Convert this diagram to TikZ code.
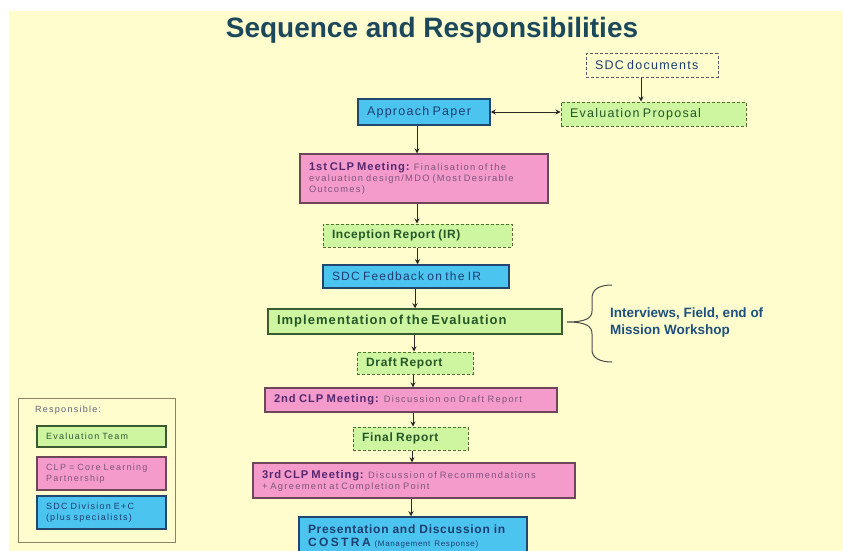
\documentclass[tikz,border=0pt]{standalone}
\usepackage{fontspec}
\setmainfont{Liberation Sans}
\usetikzlibrary{arrows.meta}
\definecolor{bg}{RGB}{255,253,206}
\definecolor{bluef}{RGB}{76,196,240}
\definecolor{pinkf}{RGB}{245,155,203}
\definecolor{greenf}{RGB}{206,246,160}
\definecolor{titlec}{RGB}{28,72,92}
\definecolor{bluet}{RGB}{28,62,112}
\definecolor{greent}{RGB}{36,86,40}
\definecolor{purplet}{RGB}{84,40,112}
\definecolor{purples}{RGB}{125,85,125}
\definecolor{bluebord}{RGB}{35,70,110}
\definecolor{pinkbord}{RGB}{110,70,90}
\definecolor{greenbord}{RGB}{60,90,50}
\definecolor{dashg}{RGB}{80,110,50}
\definecolor{sdcdash}{RGB}{90,90,100}
\definecolor{legb}{RGB}{140,130,100}
\definecolor{linec}{RGB}{40,40,40}
\definecolor{iwc}{RGB}{30,80,125}
\definecolor{legt}{RGB}{90,100,120}
\newcommand\rt[3]{{\fontsize{#1}{#1}\selectfont\addfontfeature{LetterSpace=#2}#3}}
\newcommand\bt[3]{{\fontsize{#1}{#1}\selectfont\bfseries\addfontfeature{LetterSpace=#2}#3}}
\begin{document}
\begin{tikzpicture}[x=1pt,y=-1pt,
  boxbase/.style={rectangle, inner xsep=9pt, inner ysep=0pt, align=left},
  wh/.style 2 args={text width=#1pt, minimum height=#2pt},
  solidblue/.style={boxbase, fill=bluef, draw=bluebord, line width=1.5pt},
  solidpink/.style={boxbase, fill=pinkf, draw=pinkbord, line width=1.3pt},
  solidgreen/.style={boxbase, fill=greenf, draw=greenbord, line width=1.5pt},
  dashgreen/.style={boxbase, fill=greenf, draw=dashg, line width=1pt, dash pattern=on 3pt off 2pt},
  dashplain/.style={boxbase, fill=bg, draw=sdcdash, line width=1pt, dash pattern=on 3pt off 2pt},
  legbox/.style={boxbase, line width=1.1pt, font=\fontsize{9}{11}\selectfont},
  conn/.style={draw=linec, line width=0.9pt},
  onearrow/.style={conn, -{Stealth[length=5pt,width=5pt]}},
  twoarrow/.style={conn, {Stealth[length=5pt,width=5pt]}-{Stealth[length=5pt,width=5pt]}},
  brc/.style={draw=black!70, line width=1pt}
]
\useasboundingbox (0,0) rectangle (843,551);
\fill[white] (0,0) rectangle (843,551);
\fill[bg] (9,11) rectangle (843,551);

\node[anchor=base, text=titlec, inner sep=0, font=\fontsize{28}{28}\selectfont\bfseries] (title) at (432,38) {Sequence and Responsibilities};

\node[dashplain, wh={114}{23}, text=bluet] (sdc) at (652,65.5) {\rt{12.5}{10}{SDC documents}};
\node[dashgreen, wh={167}{24}, text=greent] (ep) at (653.5,114) {\rt{12.5}{10}{Evaluation Proposal}};
\node[solidblue, wh={114}{26}, text=bluet] (ap) at (424,112) {\rt{12.5}{10}{Approach Paper}};
\node[solidpink, wh={230}{49}, text=purples, font=\fontsize{9}{11}\selectfont] (clp1) at (424,178.5)
  {\bt{11.2}{8}{\color{purplet}1st CLP Meeting:} \rt{9.3}{14}{Finalisation of the}\\
   \rt{9.3}{14}{evaluation design/MDO (Most Desirable}\\
   \rt{9.3}{14}{Outcomes)}};
\node[dashgreen, wh={171}{23}, text=greent] (ir) at (417.5,235.5) {\bt{12}{5}{Inception Report (IR)}};
\node[solidblue, wh={168}{23}, text=bluet] (fb) at (416,276.5) {\rt{12}{10}{SDC Feedback on the IR}};
\node[solidgreen, wh={276}{25}, text=greent] (impl) at (415,321.5) {\bt{13}{8}{Implementation of the Evaluation}};
\node[dashgreen, wh={98}{22}, text=greent] (draft) at (415,363) {\bt{12}{6}{Draft Report}};
\node[solidpink, wh={274}{24}, text=purples] (clp2) at (411,400)
  {\bt{11.2}{8}{\color{purplet}2nd CLP Meeting:} \rt{9.3}{14}{Discussion on Draft Report}};
\node[dashgreen, wh={97}{23}, text=greent] (final) at (410.5,438.5) {\bt{12}{6}{Final Report}};
\node[solidpink, wh={304}{35}, text=purples, font=\fontsize{9}{11}\selectfont] (clp3) at (414,480.5)
  {\bt{11.2}{8}{\color{purplet}3rd CLP Meeting:} \rt{9.3}{14}{Discussion of Recommendations}\\
   \rt{9.3}{14}{+ Agreement at Completion Point}};
\node[solidblue, wh={210}{39}, text=bluet, font=\fontsize{12}{13}\selectfont] (pres) at (413,536.5)
  {\bt{12}{6}{Presentation and Discussion in}\\
   \bt{12}{20}{COSTRA} \rt{8}{8}{(Management Response)}};

\node[anchor=west, align=left, inner sep=0, text=iwc, font=\fontsize{13.5}{17}\selectfont\bfseries] (iw) at (610,322.6)
  {Interviews, Field, end of\\Mission Workshop};

% legend
\node[draw=legb, line width=0.8pt, minimum width=157pt, minimum height=144pt, inner sep=0] (leg) at (96.5,470) {};
\node[anchor=west, inner sep=0, text=legt] (legtitle) at (35,410) {\rt{9}{14}{Responsible:}};
\node[legbox, fill=greenf, draw=greenbord, wh={111}{21}, text=greent!80!legt] (leg1) at (101.5,436.5) {\rt{9}{14}{Evaluation Team}};
\node[legbox, fill=pinkf, draw=pinkbord, wh={111}{33}, text=purples] (leg2) at (101.5,473.5) {\rt{9}{14}{CLP = Core Learning}\\\rt{9}{14}{Partnership}};
\node[legbox, fill=bluef, draw=bluebord, wh={111}{33}, text=bluet] (leg3) at (101.5,512.5) {\rt{9}{14}{SDC Division E+C}\\\rt{9}{14}{(plus specialists)}};

% connectors
\draw[onearrow] ([xshift=-11pt]sdc.south) -- ([xshift=-11pt]sdc.south |- ep.north);
\draw[twoarrow] (ap.east) -- (ap.east -| ep.west);
\draw[onearrow] ([xshift=-7pt]ap.south) -- ([xshift=-7pt]ap.south |- clp1.north);
\draw[onearrow] ([xshift=-7pt]clp1.south) -- ([xshift=-7pt]clp1.south |- ir.north);
\draw[onearrow] (ir.south) -- (ir.south |- fb.north);
\draw[onearrow] ([xshift=-1pt]fb.south) -- ([xshift=-1pt]fb.south |- impl.north);
\draw[onearrow] ([xshift=-1pt]impl.south) -- ([xshift=-1pt]impl.south |- draft.north);
\draw[onearrow] ([xshift=-2pt]draft.south) -- ([xshift=-2pt]draft.south |- clp2.north);
\draw[onearrow] ([xshift=2pt]clp2.south) -- ([xshift=2pt]clp2.south |- final.north);
\draw[onearrow] ([xshift=1.5pt]final.south) -- ([xshift=1.5pt]final.south |- clp3.north);
\draw[onearrow] ([xshift=-3pt]clp3.south) -- ([xshift=-3pt]clp3.south |- pres.north);

% brace
\draw[brc] (612,285) .. controls (600,285) and (592,289) .. (592,298) -- (592,311)
  .. controls (592,318) and (586,322) .. (567,322)
  .. controls (586,322) and (592,326) .. (592,334) -- (592,350)
  .. controls (592,358) and (600,362) .. (612,362);
\end{tikzpicture}
\end{document}
